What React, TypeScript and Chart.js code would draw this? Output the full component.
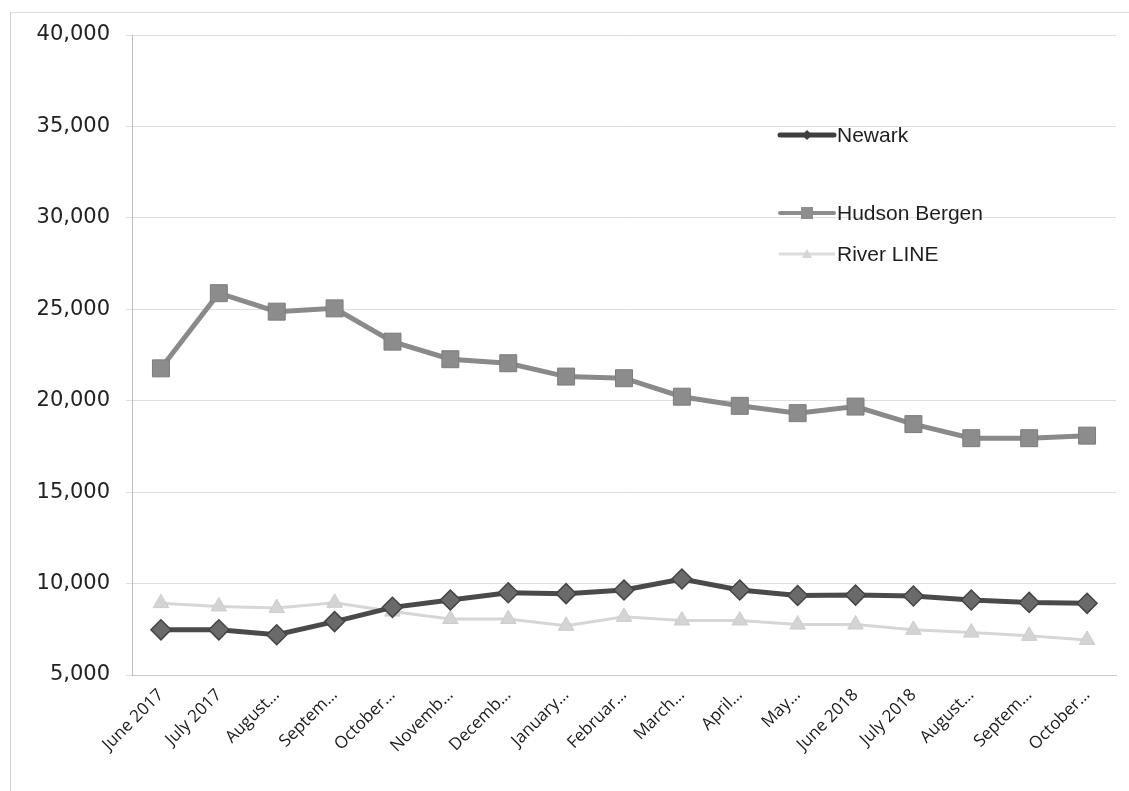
import { useEffect, useRef } from "react";
import { Chart, registerables } from "chart.js";

Chart.register(...registerables);

const categories = [
  "June 2017", "July 2017", "August…", "Septem…", "October…", "Novemb…", "Decemb…", "January…",
  "Februar…", "March…", "April…", "May…", "June 2018", "July 2018", "August…", "Septem…", "October…",
];
const newark = [7470, 7470, 7200, 7920, 8700, 9100, 9500, 9450, 9650, 10250, 9650, 9350, 9370, 9320, 9100, 8970, 8920];
const hudsonBergen = [21770, 25880, 24870, 25050, 23230, 22270, 22050, 21320, 21230, 20220, 19720, 19320, 19680, 18720, 17950, 17950, 18090];
const riverLine = [8930, 8750, 8660, 8950, 8470, 8060, 8060, 7690, 8180, 7980, 7980, 7760, 7760, 7470, 7320, 7140, 6920];
const seriesNames = ["Newark", "Hudson Bergen", "River LINE"];
const yTicks = [5000, 10000, 15000, 20000, 25000, 30000, 35000, 40000];

const legendPlugin = {
  id: "insideLegend",
  afterDraw(chart: any) {
    const { ctx, chartArea } = chart;
    const x0 = chartArea.left + 648;
    const rows = [chartArea.top + 100, chartArea.top + 178, chartArea.top + 219];
    const styles = [
      { line: "#3e3e3e", lw: 5, pt: "#3e3e3e", shape: "rectRot" },
      { line: "#8c8c8c", lw: 4, pt: "#8e8e8e", shape: "rect" },
      { line: "#dcdcdc", lw: 3, pt: "#d6d6d6", shape: "triangle" },
    ];
    ctx.save();
    rows.forEach((y, i) => {
      const s = styles[i];
      ctx.strokeStyle = s.line;
      ctx.lineWidth = s.lw;
      ctx.lineCap = "round";
      ctx.beginPath();
      ctx.moveTo(x0, y);
      ctx.lineTo(x0 + 54, y);
      ctx.stroke();
      ctx.fillStyle = s.pt;
      ctx.beginPath();
      const cx = x0 + 27;
      if (s.shape === "rectRot") {
        ctx.moveTo(cx, y - 5); ctx.lineTo(cx + 5, y); ctx.lineTo(cx, y + 5); ctx.lineTo(cx - 5, y);
      } else if (s.shape === "rect") {
        ctx.rect(cx - 6, y - 6, 12, 12);
      } else {
        ctx.moveTo(cx, y - 5); ctx.lineTo(cx + 5, y + 4); ctx.lineTo(cx - 5, y + 4);
      }
      ctx.closePath();
      ctx.fill();
      ctx.fillStyle = "#1e1e1e";
      ctx.font = "21px 'Liberation Sans', Arial, sans-serif";
      ctx.textBaseline = "middle";
      ctx.textAlign = "left";
      ctx.fillText(seriesNames[i], x0 + 57, y + 1);
    });
    ctx.restore();
  },
};

export default function App() {
  const ref = useRef<HTMLCanvasElement | null>(null);
  useEffect(() => {
    document.body.style.margin = "0";
    const chart = new Chart(ref.current!, {
      type: "line",
      data: {
        labels: categories,
        datasets: [
          {
            label: seriesNames[0],
            data: newark,
            borderColor: "#4a4a4a",
            borderWidth: 5,
            pointStyle: "rectRot",
            pointRadius: 10,
            pointBackgroundColor: "#6a6a6a",
            pointBorderColor: "#444444",
            pointBorderWidth: 1.5,
            tension: 0,
          },
          {
            label: seriesNames[1],
            data: hudsonBergen,
            borderColor: "#8a8a8a",
            borderWidth: 5,
            pointStyle: "rect",
            pointRadius: 12,
            pointBackgroundColor: "#8c8c8c",
            pointBorderColor: "#7c7c7c",
            pointBorderWidth: 1,
            tension: 0,
          },
          {
            label: seriesNames[2],
            data: riverLine,
            borderColor: "#d6d6d6",
            borderWidth: 3,
            pointStyle: "triangle",
            pointRadius: 9,
            pointBackgroundColor: "#d4d4d4",
            pointBorderColor: "#cccccc",
            pointBorderWidth: 1,
            tension: 0,
          },
        ],
      },
      options: {
        animation: false,
        responsive: false,
        layout: { padding: { left: 0, top: 35, right: 11, bottom: 0 } },
        plugins: { legend: { display: false }, tooltip: { enabled: false } },
        scales: {
          x: {
            offset: true,
            grid: { display: false, drawTicks: true, tickLength: 6 },
            border: { color: "#c8c8c8" },
            ticks: {
              maxRotation: 45,
              minRotation: 45,
              autoSkip: false,
              padding: 4,
              color: "#1a1a1a",
              font: { family: "'Open Sans', sans-serif", size: 17 },
            },
            afterFit: (s: any) => { s.height = 116; },
          },
          y: {
            min: 5000,
            max: 40000,
            afterBuildTicks: (s: any) => { s.ticks = yTicks.map((v) => ({ value: v })); },
            grid: { color: "#dedede", lineWidth: 1, tickLength: 6 },
            border: { color: "#bdbdbd", dash: [] },
            ticks: {
              padding: 16,
              color: "#222222",
              font: { family: "'DejaVu Sans', sans-serif", size: 21 },
              callback: (v: any) => Number(v).toLocaleString("en-US"),
            },
            afterFit: (s: any) => { s.width = 132; },
          },
        },
      },
      plugins: [legendPlugin],
    });
    return () => chart.destroy();
  }, []);
  return (
    <div style={{ position: "relative", width: 1129, height: 791, background: "#fff", overflow: "hidden" }}>
      <div style={{ position: "absolute", left: 10, top: 12, width: 1130, height: 800, borderLeft: "1px solid #cfcfcf", borderTop: "1px solid #dcdcdc" }} />
      <canvas ref={ref} width={1129} height={791} style={{ position: "absolute", left: 0, top: 0 }} />
    </div>
  );
}
